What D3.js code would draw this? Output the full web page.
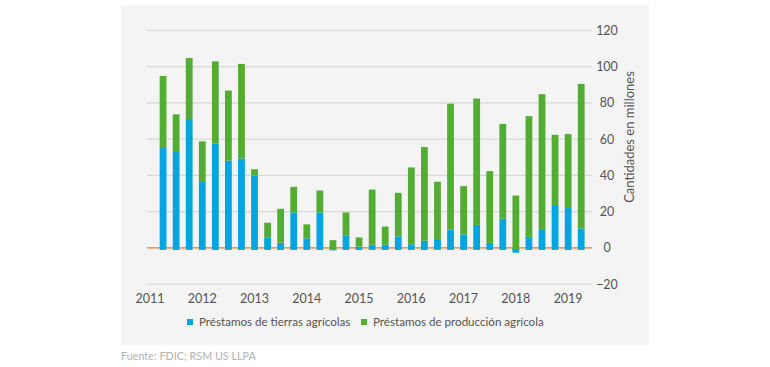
<!DOCTYPE html>
<html>
<head>
<meta charset="utf-8">
<script src="https://cdn.jsdelivr.net/npm/d3@7"></script>
<style>
  body { margin: 0; background: #fff; }
  svg { font-family: Lato, "Open Sans", sans-serif; }
</style>
</head>
<body>
<svg id="chart" width="770" height="367"></svg>
<script>
// quarters 2011 T2 .. 2019 T2, millions
const quarters = d3.range(1, 34)
const tierras = [55.1, 52.9, 71.1, 36.4, 57.5, 48.2, 49.3, 39.9, 5.6, 2.9, 19.6, 5.3, 19.6, -1.3, 6.9, 0.7,
    1.8, 1.8, 6.4, 2.0, 4.0, 4.4, 10.1, 7.5, 12.7, 2.8, 16.1, -2.6, 6.1, 9.9, 23.7, 22.0, 10.8]
const produccion = [39.8, 20.8, 33.7, 22.4, 45.4, 38.6, 52.2, 3.5, 8.3, 18.7, 14.1, 7.7, 12.1, 4.3, 12.7, 5.1,
    30.4, 10.0, 24.0, 42.4, 51.6, 32.1, 69.5, 26.6, 69.7, 39.6, 52.3, 28.9, 66.6, 74.9, 38.7, 40.8, 79.7]
const years = [2011, 2012, 2013, 2014, 2015, 2016, 2017, 2018, 2019]
const yTicks = [120, 100, 80, 60, 40, 20, 0, -20]
const series = ["Préstamos de tierras agrícolas", "Préstamos de producción agrícola"]
const colors = ["#05a5e1", "#52ad32"]

const svg = d3.select("#chart")

svg.append("rect")
    .attr("x", 121).attr("y", 5)
    .attr("width", 528).attr("height", 340)
    .attr("fill", "#f4f4f4")

const x = d3.scaleLinear().domain([0, 33]).range([150, 581.2])
const y = d3.scaleLinear().domain([-20, 120]).range([284.2, 30.4])

// grid + right axis labels
svg.append("g")
    .selectAll("line")
    .data(yTicks.filter(d => d !== 0))
    .join("line")
    .attr("x1", 147).attr("x2", 592)
    .attr("y1", d => y(d)).attr("y2", d => y(d))
    .attr("stroke", "#d8d8d8")
    .attr("stroke-width", 1.2)

svg.append("line")
    .attr("x1", 147).attr("x2", 592)
    .attr("y1", y(0)).attr("y2", y(0))
    .attr("stroke", "#ee7d22")
    .attr("stroke-width", 1.2)

svg.append("g")
    .selectAll("text")
    .data(yTicks)
    .join("text")
    .attr("x", 607)
    .attr("y", d => y(d))
    .attr("dy", "0.36em")
    .attr("text-anchor", "middle")
    .attr("fill", "#555")
    .style("font-size", "12.5px")
    .text(d => d < 0 ? "\u2212" + Math.abs(d) : d)

svg.append("text")
    .attr("transform", `translate(634,${137}) rotate(-90)`)
    .attr("text-anchor", "middle")
    .attr("fill", "#555")
    .style("font-size", "13px")
    .text("Cantidades en millones")

// stacked bars
const table = quarters.map((q, i) => ({ q: q, a: tierras[i], b: produccion[i] }))
const stack = d3.stack().keys(["a", "b"]).offset(d3.stackOffsetDiverging)(table)
const bw = 6.8

svg.append("g")
    .selectAll("g")
    .data(stack)
    .join("g")
    .attr("fill", (d, i) => colors[i])
    .selectAll("rect")
    .data(d => d)
    .join("rect")
    .attr("x", d => x(d.data.q) - bw / 2)
    .attr("width", bw)
    .attr("y", d => y(Math.max(d[0], d[1])))
    .attr("height", d => {
        const h = Math.abs(y(d[0]) - y(d[1]))
        return Math.min(d[0], d[1]) === 0 ? h + 2 : h
    })

// x labels
svg.append("g")
    .selectAll("text")
    .data(years)
    .join("text")
    .attr("x", (d, i) => x(i * 4))
    .attr("y", 303)
    .attr("text-anchor", "middle")
    .attr("fill", "#555")
    .style("font-size", "12.5px")
    .text(d => d)

// legend
const legend = svg.append("g")
const lx = [187, 361]
series.forEach((s, i) => {
    legend.append("rect")
        .attr("x", lx[i]).attr("y", 319)
        .attr("width", 6).attr("height", 6)
        .attr("fill", colors[i])
    legend.append("text")
        .attr("x", lx[i] + 12).attr("y", 322)
        .attr("dy", "0.35em")
        .attr("fill", "#555")
        .style("font-size", "11.6px")
        .text(s)
})

svg.append("text")
    .attr("x", 121).attr("y", 360)
    .attr("fill", "#b3b3b3")
    .style("font-size", "10.8px")
    .text("Fuente: FDIC; RSM US LLPA")
</script>
</body>
</html>
